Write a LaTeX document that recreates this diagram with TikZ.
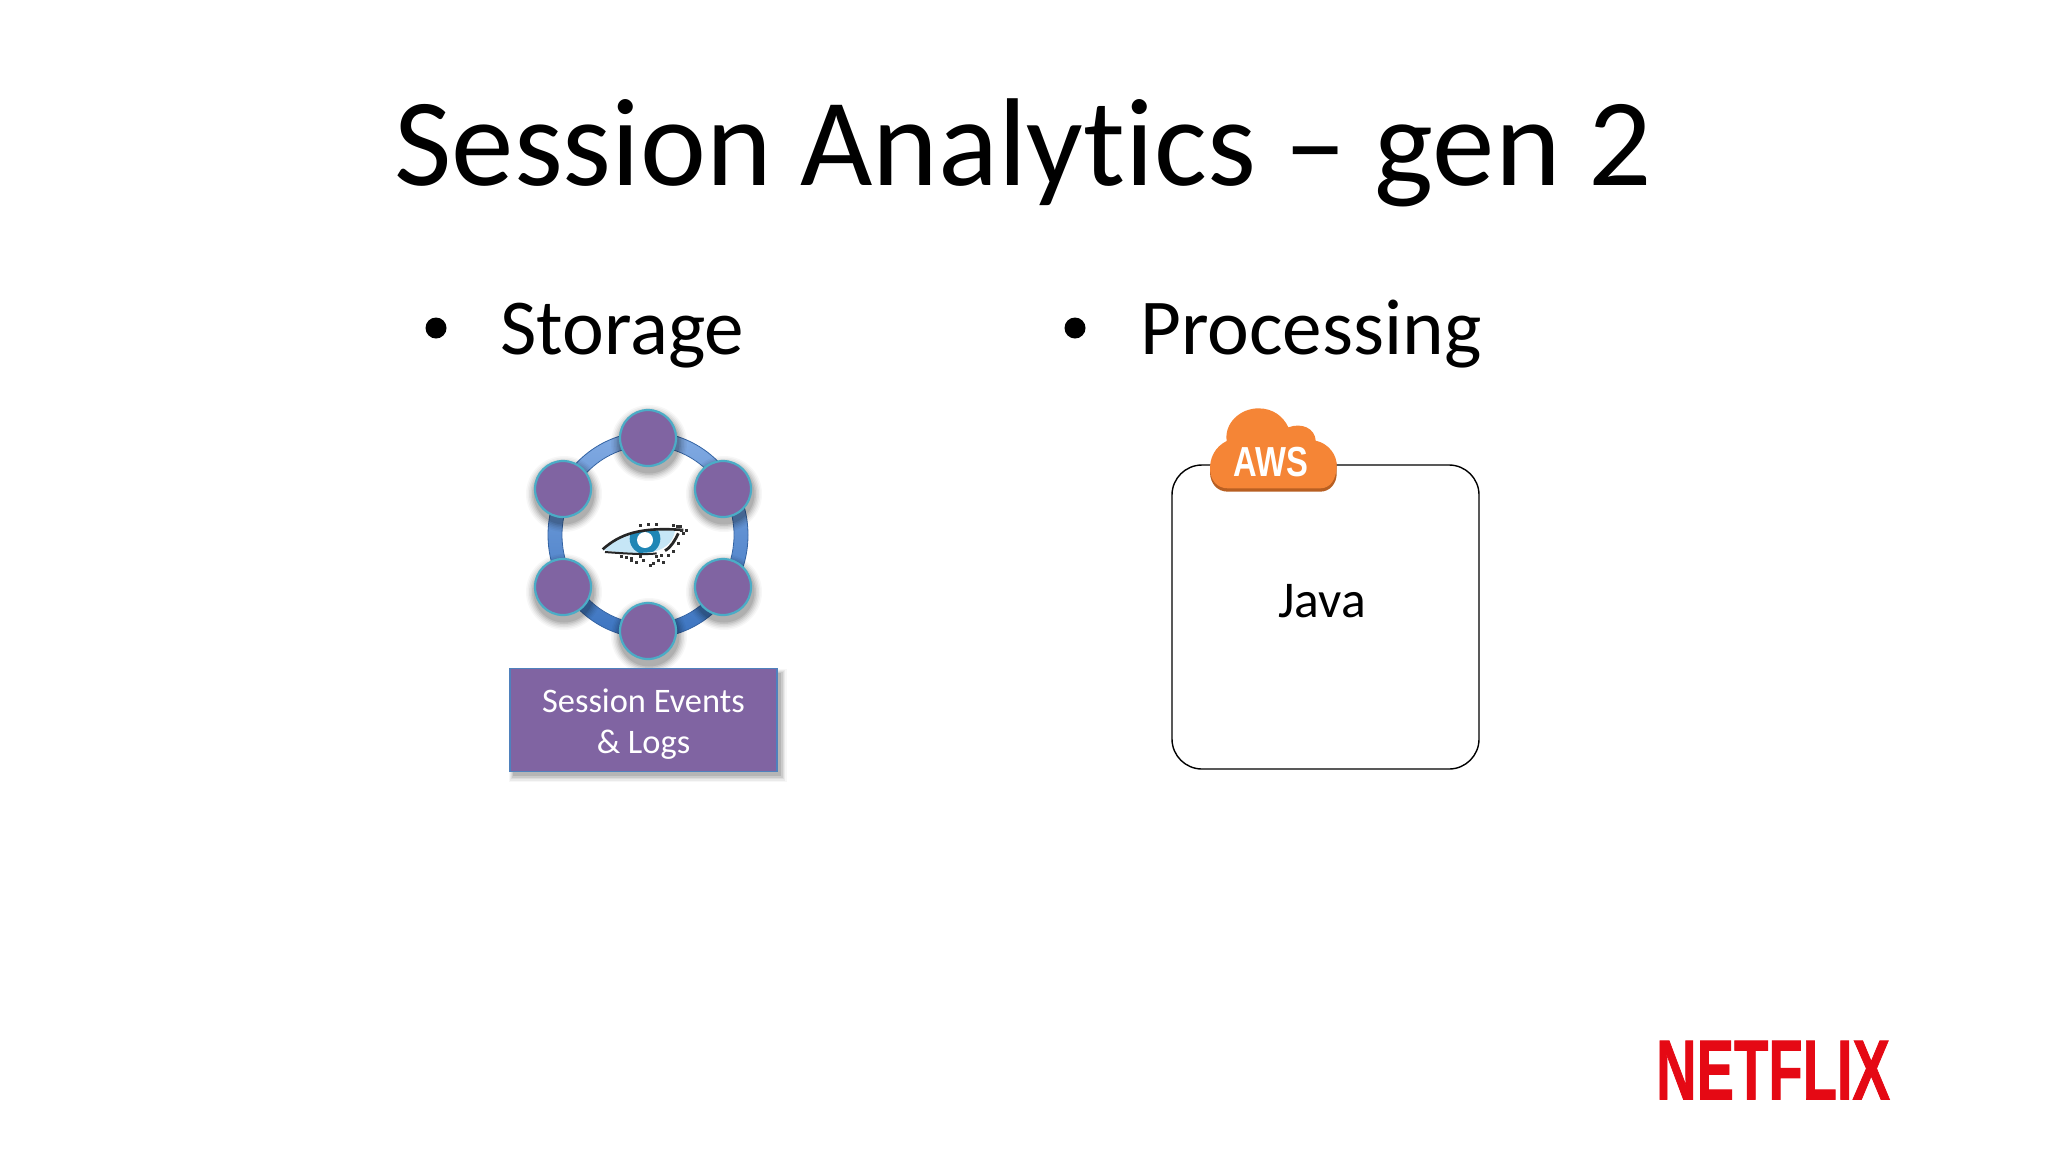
\documentclass[tikz,border=0pt]{standalone}
\usepackage{fontspec}
\setmainfont{Carlito}[Ligatures={NoCommon,NoRare}]
\newfontfamily\logofont{Liberation Sans}
\newfontfamily\netfont[FakeBold=1.2]{Liberation Sans}
\usetikzlibrary{shapes.geometric}
\definecolor{nodepurple}{HTML}{8064A2}
\definecolor{nodeedge}{HTML}{4BACC6}
\definecolor{boxedge}{HTML}{4F81BD}
\definecolor{ringlight}{HTML}{82ABE3}
\definecolor{ringdark}{HTML}{3C74C0}
\definecolor{awsorange}{HTML}{F58536}
\definecolor{awsdark}{HTML}{B85F22}
\definecolor{netred}{HTML}{E50914}
\definecolor{eyeblue}{HTML}{C6E6F6}
\definecolor{irisblue}{HTML}{1F86B5}
\tikzset{
  x=0.5pt,y=-0.5pt,
  titletext/.style={anchor=base west,inner sep=0pt,font=\fontsize{62.5}{64}\selectfont,text=black},
  bullettext/.style={anchor=base west,inner sep=0pt,font=\fontsize{39.6}{40}\selectfont,text=black},
  dotmark/.style={circle,fill=black,inner sep=0pt,minimum size=10.5pt},
  cnode/.style={circle,fill=nodepurple,draw=nodeedge,line width=1.1pt,inner sep=0pt,minimum size=28pt},
  speck/.style={fill=black!80,inner sep=0pt,minimum size=1.5pt,rectangle},
}
\newcommand{\softshadow}[3]{%
  \foreach \k/\o in {6/0.03,5/0.04,4/0.05,3/0.06,2/0.08,1/0.09}{%
    \fill[black,opacity=\o] (#1+1,#2+5) circle[radius=#3+\k*1.5];}%
}
\begin{document}
\begin{tikzpicture}
\useasboundingbox (0,0) rectangle (2048,1152);
\fill[white] (0,0) rectangle (2048,1152);

\node[titletext] (title) at (394,185) {Session Analytics – gen 2};
\node[dotmark] (b1) at (436,328) {};
\node[bullettext] (storage) at (500,354) {Storage};
\node[dotmark] (b2) at (1075,328) {};
\node[bullettext] (processing) at (1140,354) {Processing};

% ring
\node[ellipse,minimum width=100pt,minimum height=103pt,inner sep=0pt,
      top color=ringlight,bottom color=ringdark,draw=ringdark!85!black,line width=.4pt] (ringouter) at (648,535) {};
\node[ellipse,minimum width=86pt,minimum height=89pt,inner sep=0pt,fill=white,draw=ringdark!85!black,line width=.4pt] (ringinner) at (648,535) {};

% shadows and ring nodes
\softshadow{648}{438}{29}
\softshadow{563}{489}{29}
\softshadow{723}{489}{29}
\softshadow{563}{587}{29}
\softshadow{723}{587}{29}
\softshadow{648}{631}{29}
\node[cnode] (n1) at (648,438) {};
\node[cnode] (n2) at (723,489) {};
\node[cnode] (n3) at (723,587) {};
\node[cnode] (n4) at (648,631) {};
\node[cnode] (n5) at (563,587) {};
\node[cnode] (n6) at (563,489) {};

% eye
\begin{scope}[shift={(590,510)},x=0.1667pt,y=-0.1667pt]
  \fill[eyeblue] (40,120) .. controls (90,75) and (150,55) .. (255,62) .. controls (250,95) and (225,125) .. (165,128) .. controls (120,130) and (80,128) .. (40,120) -- cycle;
  \begin{scope}
    \clip (40,120) .. controls (90,75) and (150,55) .. (255,62) .. controls (250,95) and (225,125) .. (165,128) .. controls (120,130) and (80,128) .. (40,120) -- cycle;
    \fill[irisblue] (165,86) circle[radius=46];
  \end{scope}
  \fill[white] (165,90) circle[radius=24];
  \draw[black!85,line width=1.3pt] (38,118) .. controls (90,72) and (150,50) .. (280,60);
  \draw[black!85,line width=1pt] (45,126) .. controls (100,130) and (170,135) .. (200,130);
  \draw[black!85,line width=1.4pt] (225,122) .. controls (245,110) and (255,90) .. (265,70);
  \foreach \p/\q in {95/138,110/142,125/145,140/158,150/140,160/150,180/165,205/150,220/158,235/135,250/125,265/100,280/70,290/60,270/50,250/45,150/45,175/42,200/42,190/160,125/150,215/135,200/140,275/60,262/48}{
    \node[speck] at (\p,\q) {};}
\end{scope}

% storage box
\foreach \k/\o in {5/0.03,4/0.05,3/0.06,2/0.08,1/0.1}{
  \fill[black,opacity=\o] (514-\k*1.0,674-\k*1.0) rectangle (778+\k*1.3+2,771+\k*1.4+4);}
\node[draw=boxedge,fill=nodepurple,line width=.8pt,minimum width=133.5pt,minimum height=51.5pt,inner sep=0pt,
      align=center,text=white,font=\fontsize{17.2}{20.5}\selectfont,text depth=0pt] (events) at (643.5,720) {\raisebox{-1.6pt}{Session Events}\\[0pt]\raisebox{-1.6pt}{\& Logs}};

% processing box
\node[draw=black,rounded corners=15pt,line width=.7pt,minimum width=153.5pt,minimum height=152pt,inner sep=0pt] (javabox) at (1325.5,617) {};
\node[inner sep=0pt,font=\fontsize{25.8}{26}\selectfont,text=black] (java) at (1322,601) {Java};

% cloud
\begin{scope}[shift={(1150,395)},x=0.1667pt,y=-0.1667pt]
  \fill[awsdark] (180,225) -- (180,235) .. controls (182,265) and (200,290) .. (235,290) -- (510,290) .. controls (540,290) and (560,265) .. (560,235) -- (560,205) -- cycle;
  \fill[awsorange] (180,225) .. controls (178,190) and (195,155) .. (230,138) .. controls (222,85) and (270,40) .. (325,40) .. controls (370,40) and (400,65) .. (415,97) .. controls (455,82) and (495,100) .. (497,137) .. controls (535,145) and (562,180) .. (560,215) .. controls (558,255) and (540,280) .. (510,280) -- (235,280) .. controls (200,280) and (182,255) .. (180,225) -- cycle;
\end{scope}
\node[inner sep=0pt,text=white,font=\logofont\bfseries\fontsize{21}{21}\selectfont,xscale=.78] (aws) at (1271,462) {AWS};

% logo
\node[inner sep=0pt,text=netred,font=\netfont\bfseries\fontsize{42.5}{42}\selectfont,xscale=.66] (netflix) at (1773,1070) {NETFLIX};
\end{tikzpicture}
\end{document}
